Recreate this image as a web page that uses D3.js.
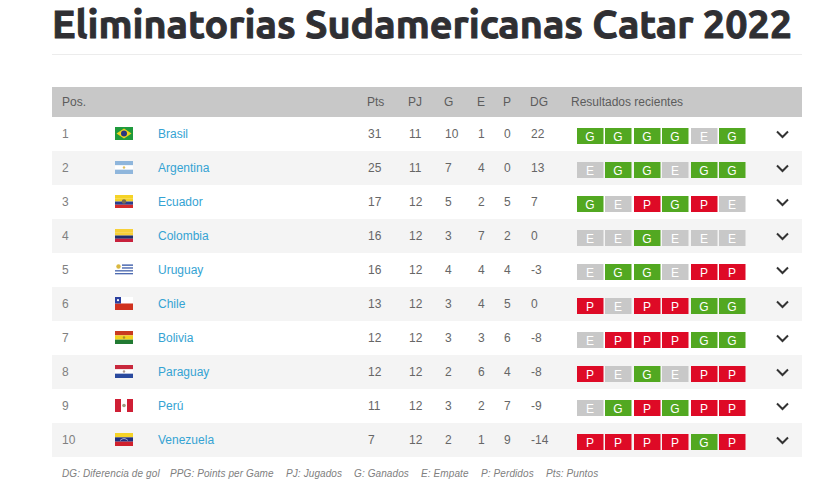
<!DOCTYPE html>
<html>
<head>
<meta charset="utf-8">
<script src="https://d3js.org/d3.v7.min.js"></script>
<style>
  html, body { margin: 0; padding: 0; background: #fff; }
  svg { display: block; }
</style>
</head>
<body>
<div id="chart"></div>
<script>
const titleText = "Eliminatorias Sudamericanas Catar 2022";
const positions = [1, 2, 3, 4, 5, 6, 7, 8, 9, 10];
const teams = ["Brasil", "Argentina", "Ecuador", "Colombia", "Uruguay", "Chile", "Bolivia", "Paraguay", "Perú", "Venezuela"];
const pts = [31, 25, 17, 16, 16, 13, 12, 12, 11, 7];
const pj = [11, 11, 12, 12, 12, 12, 12, 12, 12, 12];
const ganados = [10, 7, 5, 3, 4, 3, 3, 2, 3, 2];
const empates = [1, 4, 2, 7, 4, 4, 3, 6, 2, 1];
const perdidos = [0, 0, 5, 2, 4, 5, 6, 4, 7, 9];
const dg = [22, 13, 7, 0, -3, 0, -8, -8, -9, -14];
const recientes = ["GGGGEG", "EGGEGG", "GEPGPE", "EEGEEE", "EGGEPP", "PEPPGG", "EPPPGG", "PEGEPP", "EGPGPP", "PPPPGP"];
const headers = ["Pos.", "Pts", "PJ", "G", "E", "P", "DG", "Resultados recientes"];
const notas = ["DG: Diferencia de gol", "PPG: Points per Game", "PJ: Jugados", "G: Ganados", "E: Empate", "P: Perdidos", "Pts: Puntos"];
const notasX = [62, 170, 286, 354, 421, 481, 546];

// horizontal stripes of each flag, top to bottom
const flagStripes = [
  ["#1f9a3c"],
  ["#8fb6dc", "#ffffff", "#8fb6dc"],
  ["#f5d327", "#f5d327", "#2a3f8f", "#d42b2b"],
  ["#f7d038", "#f7d038", "#1f2f6e", "#c8213c"],
  ["#ffffff", "#3a5aa8", "#ffffff", "#3a5aa8", "#ffffff", "#3a5aa8", "#ffffff", "#3a5aa8", "#ffffff"],
  ["#ffffff", "#d0321f"],
  ["#c93a20", "#f2d21f", "#217a32"],
  ["#c8283c", "#ffffff", "#2a4a9e"],
  ["#ffffff"],
  ["#f5d327", "#1f2f7e", "#d0202c"]
];

const width = 822, height = 499;
const svg = d3.select("#chart").append("svg").attr("width", width).attr("height", height);
const font = "'Liberation Sans', Arial, sans-serif";

// title
svg.append("text")
  .attr("x", 52).attr("y", 37.5)
  .attr("font-family", "Ubuntu, 'Noto Sans', sans-serif")
  .attr("font-weight", 700)
  .attr("font-size", 38)
  .attr("fill", "#2f2f33")
  .attr("stroke", "#2f2f33")
  .attr("stroke-width", 0.9)
  .attr("textLength", 740)
  .attr("lengthAdjust", "spacingAndGlyphs")
  .text(titleText);
svg.append("line").attr("x1", 52).attr("x2", 802).attr("y1", 54.5).attr("y2", 54.5).attr("stroke", "#ececec");

// layout scales
const y = d3.scaleBand().domain(positions).range([117, 457]);
const colX = d3.scaleOrdinal()
  .domain(headers)
  .range([62, 367, 408, 444, 477, 503, 530, 571]);
const cellX = d3.scalePoint().domain(d3.range(6)).range([577, 719]);

// header
svg.append("rect").attr("x", 52).attr("y", 87).attr("width", 750).attr("height", 30).attr("fill", "#c8c8c8");
svg.selectAll("text.head").data(headers).enter().append("text")
  .attr("class", "head")
  .attr("x", d => colX(d))
  .attr("y", 106)
  .attr("font-family", font).attr("font-size", 12).attr("fill", "#5c5c5c")
  .text(d => d);

// rows
const rows = svg.selectAll("g.row").data(positions).enter().append("g")
  .attr("class", "row")
  .attr("transform", d => `translate(0,${y(d)})`);

rows.append("rect")
  .attr("x", 52).attr("width", 750).attr("height", y.bandwidth())
  .attr("fill", (d, i) => i % 2 ? "#f4f4f4" : "#fff");

const baseY = 21;
function addCol(cls, name, values, color) {
  rows.append("text")
    .attr("class", cls)
    .attr("x", colX(name) + (name === "Pos." ? 0 : 1))
    .attr("y", baseY)
    .attr("font-family", font).attr("font-size", 12)
    .attr("fill", color)
    .text((d, i) => values[i]);
}
addCol("pos", "Pos.", positions, "#808080");
addCol("pts", "Pts", pts, "#666");
addCol("pj", "PJ", pj, "#666");
addCol("g", "G", ganados, "#666");
addCol("e", "E", empates, "#666");
addCol("p", "P", perdidos, "#666");
addCol("dg", "DG", dg, "#666");

rows.append("text")
  .attr("x", 158).attr("y", baseY)
  .attr("font-family", font).attr("font-size", 12).attr("fill", "#35a3d3")
  .text((d, i) => teams[i]);

// flags
const flags = rows.append("g").attr("transform", "translate(115,10)");
flags.each(function (d, i) {
  const g = d3.select(this);
  const fy = d3.scaleBand().domain(d3.range(flagStripes[i].length)).range([0, 13]);
  g.selectAll("rect").data(flagStripes[i]).enter().append("rect")
    .attr("x", 0).attr("width", 18)
    .attr("y", (c, k) => fy(k)).attr("height", fy.bandwidth())
    .attr("fill", c => c);
  const name = teams[i];
  if (name === "Brasil") {
    g.append("path").attr("d", "M9 1.5L16.5 6.5L9 11.5L1.5 6.5Z").attr("fill", "#f2d21f");
    g.append("circle").attr("cx", 9).attr("cy", 6.5).attr("r", 3).attr("fill", "#2a3580");
  } else if (name === "Argentina") {
    g.append("circle").attr("cx", 9).attr("cy", 6.5).attr("r", 1.2).attr("fill", "#e0c060");
  } else if (name === "Ecuador") {
    g.append("circle").attr("cx", 9).attr("cy", 6.5).attr("r", 2.2).attr("fill", "#7a6a50");
  } else if (name === "Uruguay") {
    g.append("rect").attr("width", 7).attr("height", 7).attr("fill", "#fff");
    g.append("circle").attr("cx", 3.5).attr("cy", 3.5).attr("r", 2.2).attr("fill", "#d9b840");
  } else if (name === "Chile") {
    g.append("rect").attr("width", 6).attr("height", 6.5).attr("fill", "#2a3f9e");
    g.append("circle").attr("cx", 3).attr("cy", 3.2).attr("r", 1.1).attr("fill", "#fff");
  } else if (name === "Bolivia" || name === "Paraguay") {
    g.append("circle").attr("cx", 9).attr("cy", 6.5).attr("r", 1.2).attr("fill", name === "Bolivia" ? "#a8902c" : "#b09a90");
  } else if (name === "Perú") {
    g.append("rect").attr("width", 6).attr("height", 13).attr("fill", "#cf1f35");
    g.append("rect").attr("x", 12).attr("width", 6).attr("height", 13).attr("fill", "#cf1f35");
    g.append("circle").attr("cx", 9).attr("cy", 6.5).attr("r", 1.8).attr("fill", "#a09a80");
  } else if (name === "Venezuela") {
    g.append("path").attr("d", "M5 7.5Q9 3.5 13 7.5").attr("fill", "none").attr("stroke", "#d8d8e8").attr("stroke-width", 0.7);
  }
});

// recent results
const resultColor = d3.scaleOrdinal().domain(["G", "E", "P"]).range(["#52a821", "#c8c8c8", "#de0a26"]);
rows.each(function (d, i) {
  const cells = d3.select(this).selectAll("g.cell").data(recientes[i].split("")).enter().append("g")
    .attr("class", "cell")
    .attr("transform", (r, k) => `translate(${Math.round(cellX(k))},11)`);
  cells.append("rect").attr("width", 26.5).attr("height", 16).attr("fill", r => resultColor(r));
  cells.append("text")
    .attr("x", 13).attr("y", 12.5)
    .attr("text-anchor", "middle")
    .attr("font-family", font).attr("font-size", 12)
    .attr("fill", "#fff")
    .text(r => r);
});

// chevrons
rows.append("path")
  .attr("d", "M777 14.5L782.5 20L788 14.5")
  .attr("fill", "none").attr("stroke", "#333").attr("stroke-width", 2);

// footnotes
svg.selectAll("text.nota").data(notas).enter().append("text")
  .attr("class", "nota")
  .attr("x", (d, i) => notasX[i])
  .attr("y", 477)
  .attr("font-family", font).attr("font-size", 10).attr("font-style", "italic")
  .attr("fill", "#808080").attr("letter-spacing", 0.1)
  .text(d => d);
</script>
</body>
</html>
